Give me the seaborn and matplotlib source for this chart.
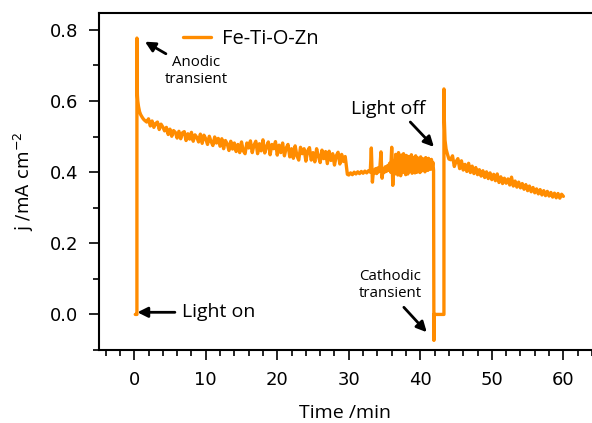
import numpy as np
import pandas as pd
import matplotlib
matplotlib.use("Agg")
import matplotlib.pyplot as plt
import seaborn as sns
from matplotlib.ticker import MultipleLocator, FormatStrFormatter

series_label = "Fe-Ti-O-Zn"
line_color = "#FF8C00"

# dark current before the light is switched on
t_dark1 = [0.15, 0.38]
j_dark1 = [0.0, 0.0]

# anodic transient on illumination and its fast decay
t_spike1 = [0.38, 0.40, 0.42, 0.45, 0.50, 0.60, 0.75, 0.90, 1.10, 1.30, 1.50, 1.75]
j_spike1 = [0.777, 0.680, 0.635, 0.615, 0.600, 0.585, 0.570, 0.562, 0.555, 0.549, 0.545, 0.541]

# photocurrent under illumination, 2.0 - 29.5 min
j_illum1 = [
    0.550, 0.530, 0.544, 0.526, 0.537, 0.541, 0.520, 0.535, 0.527, 0.516,
    0.526, 0.506, 0.521, 0.501, 0.517, 0.512, 0.496, 0.515, 0.494, 0.511,
    0.514, 0.489, 0.508, 0.493, 0.512, 0.487, 0.505, 0.498, 0.485, 0.507,
    0.481, 0.504, 0.494, 0.478, 0.501, 0.486, 0.475, 0.499, 0.482, 0.495,
    0.473, 0.494, 0.466, 0.489, 0.480, 0.461, 0.487, 0.465, 0.482, 0.458,
    0.478, 0.455, 0.485, 0.460, 0.452, 0.482, 0.468, 0.488, 0.455, 0.476,
    0.487, 0.452, 0.480, 0.460, 0.491, 0.454, 0.472, 0.485, 0.449, 0.478,
    0.466, 0.486, 0.448, 0.476, 0.455, 0.482, 0.446, 0.468, 0.478, 0.443,
    0.466, 0.439, 0.474, 0.446, 0.434, 0.470, 0.452, 0.466, 0.431, 0.460,
    0.469, 0.434, 0.455, 0.429, 0.466, 0.445, 0.427, 0.462, 0.438, 0.458,
    0.424, 0.459, 0.433, 0.452, 0.420, 0.446, 0.456, 0.423, 0.450, 0.430,
    0.444,
]
t_illum1 = np.linspace(2.0, 29.5, len(j_illum1))

# step down near 30 min
t_step = [29.65, 29.8]
j_step = [0.420, 0.394]

# lower plateau, 30 - 32.75 min
j_low = [0.392, 0.398, 0.393, 0.400, 0.395, 0.401, 0.396, 0.402, 0.397, 0.403, 0.398, 0.404]
t_low = np.linspace(30.0, 32.75, len(j_low))

# spiky section, 33 - 36.3 min
j_spiky = [0.400, 0.468, 0.372, 0.405, 0.398, 0.410, 0.396, 0.412, 0.401, 0.415,
           0.457, 0.383, 0.410, 0.399, 0.415, 0.402, 0.418, 0.405, 0.425, 0.400,
           0.470, 0.363, 0.430]
t_spiky = np.linspace(33.0, 36.3, len(j_spiky))

# noisy section before the light is switched off
j_noisy = [0.395, 0.450, 0.402, 0.446, 0.392, 0.455, 0.410, 0.438, 0.390, 0.448,
           0.415, 0.399, 0.452, 0.406, 0.441, 0.393, 0.447, 0.420, 0.395, 0.444,
           0.402, 0.437, 0.412, 0.449, 0.397, 0.442, 0.408, 0.435, 0.398, 0.446,
           0.415, 0.400, 0.440, 0.410, 0.436, 0.399, 0.443, 0.418, 0.404, 0.438,
           0.412, 0.434, 0.401, 0.441, 0.416, 0.432, 0.405, 0.439, 0.414, 0.430,
           0.408, 0.436, 0.412, 0.428]
t_noisy = np.linspace(36.45, 41.75, len(j_noisy))

# light off: cathodic transient, then dark current
t_dark2 = [41.85, 41.90, 41.92, 43.30]
j_dark2 = [0.405, -0.073, 0.0, 0.0]

# second illumination: anodic transient and decay
t_spike2 = [43.30, 43.35, 43.45, 43.60, 43.80, 44.00]
j_spike2 = [0.634, 0.550, 0.490, 0.465, 0.450, 0.437]

j_illum2 = [
    0.435, 0.446, 0.416, 0.430, 0.438, 0.410, 0.432, 0.406,
    0.422, 0.402, 0.425, 0.399, 0.417, 0.396, 0.413, 0.393,
    0.407, 0.389, 0.404, 0.385, 0.401, 0.382, 0.398, 0.379,
    0.394, 0.376, 0.395, 0.371, 0.387, 0.368, 0.383, 0.369,
    0.381, 0.364, 0.386, 0.361, 0.375, 0.358, 0.372, 0.356,
    0.368, 0.352, 0.365, 0.348, 0.361, 0.345, 0.357, 0.342,
    0.353, 0.339, 0.351, 0.336, 0.348, 0.334, 0.346, 0.333,
    0.343, 0.330, 0.341, 0.328, 0.340, 0.327, 0.338, 0.332,
]
t_illum2 = np.linspace(44.25, 60.0, len(j_illum2))

time = np.concatenate([t_dark1, t_spike1, t_illum1, t_step, t_low, t_spiky,
                       t_noisy, t_dark2, t_spike2, t_illum2])
current = np.concatenate([j_dark1, j_spike1, j_illum1, j_step, j_low, j_spiky,
                          j_noisy, j_dark2, j_spike2, j_illum2])
df = pd.DataFrame({"Time": time, "j": current, "sample": series_label})

sns.set_theme(style="ticks")
plt.rcParams["font.family"] = ["DejaVu Sans"]
plt.rcParams.update({"text.color": "black", "axes.labelcolor": "black",
                     "xtick.color": "black", "ytick.color": "black",
                     "axes.edgecolor": "black"})
label_font = "Open Sans"

fig = plt.figure(figsize=(5.92, 4.23), dpi=100)
ax = fig.add_axes([0.167, 0.1726, 0.833, 0.797])

sns.lineplot(data=df, x="Time", y="j", hue="sample", palette=[line_color],
             sort=False, estimator=None, lw=2.4, ax=ax)

ax.set_xlim(-4.94, 64.0)
ax.set_ylim(-0.1, 0.848)
ax.xaxis.set_major_locator(MultipleLocator(10))
ax.xaxis.set_minor_locator(MultipleLocator(2))
ax.yaxis.set_major_locator(MultipleLocator(0.2))
ax.yaxis.set_minor_locator(MultipleLocator(0.1))
ax.yaxis.set_major_formatter(FormatStrFormatter("%.1f"))

for side in ["left", "bottom", "top"]:
    ax.spines[side].set_linewidth(1.5)
ax.spines["right"].set_visible(False)

ax.tick_params(which="major", direction="out", length=7, width=1.2, labelsize=13)
ax.tick_params(which="minor", direction="out", length=4, width=1.2)
ax.tick_params(axis="x", which="major", pad=8)
ax.tick_params(axis="y", which="major", pad=8)

ax.set_xlabel("Time /min", fontsize=14, family=label_font, labelpad=11)
ax.set_ylabel("j /mA cm$^{-2}$", fontsize=13, labelpad=10)

ax.legend(loc="center left", bbox_to_anchor=(183 / 592, 1 - 39 / 423),
          bbox_transform=fig.transFigure, frameon=False, borderpad=0,
          borderaxespad=0, handlelength=1.4, handletextpad=0.55,
          prop={"family": label_font, "size": 14.5})

arrow = dict(arrowstyle="-|>", color="black", lw=2, mutation_scale=15,
             shrinkA=0, shrinkB=0)

ax.annotate("", xy=(1.5, 0.767), xytext=(4.43, 0.733), arrowprops=arrow)
ax.text(8.65, 0.684, "Anodic\ntransient", ha="center", va="center",
        fontsize=10.8, family=label_font)

ax.annotate("", xy=(0.45, 0.006), xytext=(5.69, 0.006), arrowprops=arrow)
ax.text(6.7, 0.006, "Light on", ha="left", va="center", fontsize=14,
        family=label_font)

ax.annotate("", xy=(41.9, 0.471), xytext=(38.6, 0.541), arrowprops=arrow)
ax.text(35.5, 0.578, "Light off", ha="center", va="center", fontsize=14,
        family=label_font)

ax.annotate("", xy=(40.9, -0.05), xytext=(37.7, 0.02), arrowprops=arrow)
ax.text(35.8, 0.082, "Cathodic\ntransient", ha="center", va="center",
        fontsize=10.8, family=label_font)

fig.savefig("out.png", dpi=100)
